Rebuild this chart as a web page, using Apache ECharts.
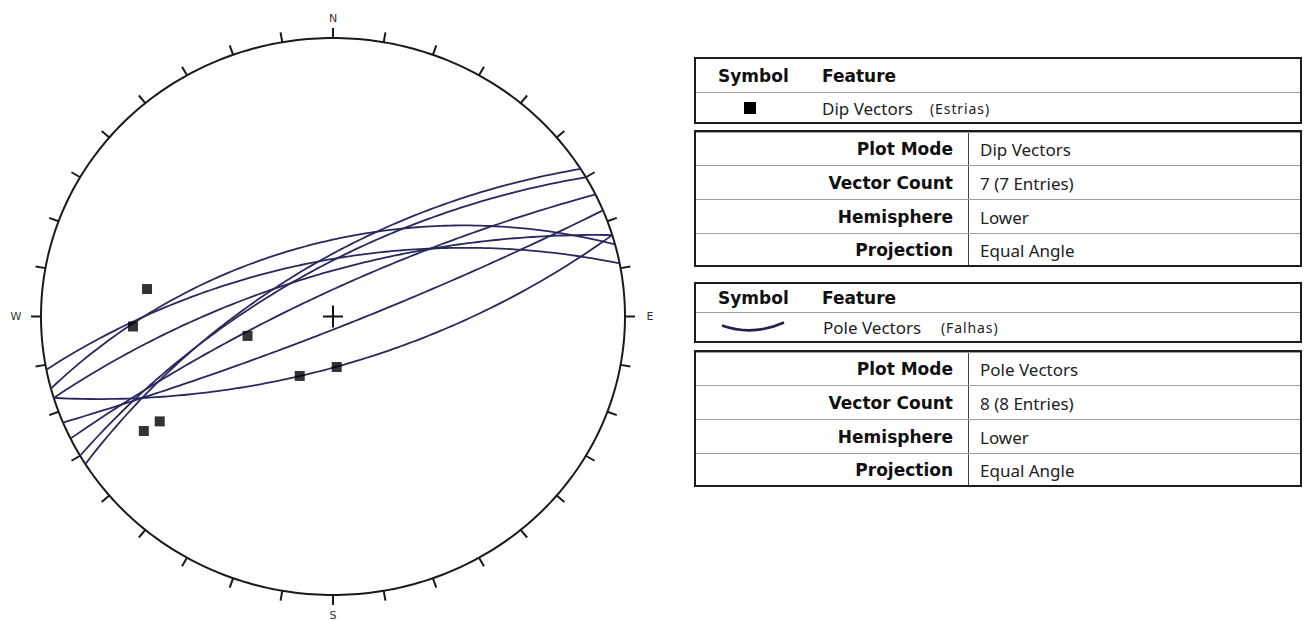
<!DOCTYPE html>
<html>
<head>
<meta charset="utf-8">
<script src="https://cdn.jsdelivr.net/npm/echarts@6/dist/echarts.min.js"></script>
<style>
html, body { margin: 0; padding: 0; background: #fff; }
#chart { position: absolute; left: 0; top: 0; width: 1307px; height: 621px; }
.box { position: absolute; left: 694px; width: 608px; border: 2px solid #1c1c1c; box-sizing: border-box; color: #222; font-family: "Noto Sans", sans-serif; font-size: 17px; }
.row { position: absolute; left: 0; right: 0; box-sizing: border-box; border-top: 1px solid #a0a0a0; }
.row:first-child { border-top: none; }
.row span { position: absolute; top: 50%; transform: translateY(-50%); white-space: nowrap; }
.b { font-family: "DejaVu Sans", sans-serif; font-weight: bold; font-size: 17px; color: #111; }
.lab { right: 347px; text-align: right; }
.val { left: 284px; }
.vline { position: absolute; top: 0; bottom: 0; left: 272px; border-left: 1px solid #444; }
.small { font-size: 14px; letter-spacing: 0.9px; }
</style>
</head>
<body>
<div id="chart"></div>

<div class="box" style="top:57px;height:67px;">
  <div class="row" style="top:0;height:33px;"><span class="b" style="left:22px;">Symbol</span><span class="b" style="left:126px;">Feature</span></div>
  <div class="row" style="top:33px;height:30px;"><span style="left:48px;width:12px;height:12px;background:#000;"></span><span style="left:126px;">Dip Vectors</span><span class="small" style="left:234px;">(Estrias)</span></div>
</div>

<div class="box" style="top:130px;height:137px;">
  <div class="vline"></div>
  <div class="row" style="top:0;height:33px;"><span class="b lab">Plot Mode</span><span class="val">Dip Vectors</span></div>
  <div class="row" style="top:33px;height:34px;"><span class="b lab">Vector Count</span><span class="val">7 (7 Entries)</span></div>
  <div class="row" style="top:67px;height:34px;"><span class="b lab">Hemisphere</span><span class="val">Lower</span></div>
  <div class="row" style="top:101px;height:32px;"><span class="b lab">Projection</span><span class="val">Equal Angle</span></div>
</div>

<div class="box" style="top:282px;height:61px;">
  <div class="row" style="top:0;height:28px;"><span class="b" style="left:22px;">Symbol</span><span class="b" style="left:126px;">Feature</span></div>
  <div class="row" style="top:28px;height:29px;">
    <span style="left:24px;"><svg width="68" height="14"><path d="M2,6 Q33,17 64,3" fill="none" stroke="#23214f" stroke-width="2.6"/></svg></span>
    <span style="left:127px;">Pole Vectors</span><span class="small" style="left:245px;">(Falhas)</span>
  </div>
</div>

<div class="box" style="top:350px;height:137px;">
  <div class="vline"></div>
  <div class="row" style="top:0;height:33px;"><span class="b lab">Plot Mode</span><span class="val">Pole Vectors</span></div>
  <div class="row" style="top:33px;height:34px;"><span class="b lab">Vector Count</span><span class="val">8 (8 Entries)</span></div>
  <div class="row" style="top:67px;height:34px;"><span class="b lab">Hemisphere</span><span class="val">Lower</span></div>
  <div class="row" style="top:101px;height:32px;"><span class="b lab">Projection</span><span class="val">Equal Angle</span></div>
</div>

<script>
// fault planes (great circles): dip direction and dip, degrees
const planeDipDir = [345, 343, 349, 163, 157.6, 334, 330, 328];
const planeDip = [60, 72, 67, 70, 85, 80, 70, 68];

// striations (dip vectors): trend and plunge, degrees
const vecTrend = [278.8, 267.0, 256.6, 208.1, 176.0, 237.6, 237.6];
const vecPlunge = [24.4, 21.1, 56.5, 62.8, 69.4, 15.0, 19.8];

// primitive ticks and compass labels
const tickAz = [0, 10, 20, 30, 40, 50, 60, 70, 80, 90, 100, 110, 120, 130, 140, 150, 160, 170,
  180, 190, 200, 210, 220, 230, 240, 250, 260, 270, 280, 290, 300, 310, 320, 330, 340, 350];
const dirAz = [0, 90, 180, 270];
const dirNames = ['N', 'E', 'S', 'W'];

const RAD = Math.PI / 180;
const LINE_COLOR = '#2a285e';

// lower hemisphere, equal angle (stereographic)
function stereo(e, n, d) {
  return [e / (1 + d), n / (1 + d)];
}
function lineXY(trend, plunge) {
  const t = trend * RAD, p = plunge * RAD;
  return stereo(Math.sin(t) * Math.cos(p), Math.cos(t) * Math.cos(p), Math.sin(p));
}
function greatCircle(dipDir, dip) {
  const st = (dipDir - 90) * RAD, dd = dipDir * RAD, dp = dip * RAD;
  const s = [Math.sin(st), Math.cos(st), 0];
  const d = [Math.cos(dp) * Math.sin(dd), Math.cos(dp) * Math.cos(dd), Math.sin(dp)];
  const out = [];
  for (let a = 0; a <= 180; a += 1.5) {
    const c = Math.cos(a * RAD), sn = Math.sin(a * RAD);
    const v = [c * s[0] + sn * d[0], c * s[1] + sn * d[1], Math.max(0, c * s[2] + sn * d[2])];
    out.push(stereo(v[0], v[1], v[2]));
  }
  return out;
}

const chart = echarts.init(document.getElementById('chart'), null, { renderer: 'svg' });

const option = {
  animation: false,
  grid: { left: 41, top: 38, width: 584, height: 557 },
  xAxis: { type: 'value', min: -1, max: 1, show: false },
  yAxis: { type: 'value', min: -1, max: 1, show: false },
  series: [
    {
      // primitive circle
      type: 'custom',
      clip: false,
      data: [[0, 0]],
      renderItem: function (params, api) {
        const pts = [];
        for (let a = 0; a <= 360; a += 1) {
          pts.push(api.coord([Math.sin(a * RAD), Math.cos(a * RAD)]));
        }
        return { type: 'polyline', shape: { points: pts }, style: { stroke: '#1a1a1a', lineWidth: 2, fill: null } };
      }
    },
    {
      // 10-degree ticks
      type: 'custom',
      clip: false,
      data: tickAz.map(a => [a]),
      renderItem: function (params, api) {
        const a = api.value(0) * RAD;
        const p1 = api.coord([Math.sin(a), Math.cos(a)]);
        const p2 = [p1[0] + Math.sin(a) * 10, p1[1] - Math.cos(a) * 10];
        return { type: 'line', shape: { x1: p1[0], y1: p1[1], x2: p2[0], y2: p2[1] }, style: { stroke: '#1a1a1a', lineWidth: 2 } };
      }
    },
    {
      // N E S W
      type: 'custom',
      clip: false,
      data: dirAz.map((a, i) => [a, dirNames[i]]),
      renderItem: function (params, api) {
        const a = api.value(0) * RAD;
        const p = api.coord([Math.sin(a), Math.cos(a)]);
        return {
          type: 'text',
          style: {
            x: p[0] + Math.sin(a) * 25, y: p[1] - Math.cos(a) * 20,
            text: dirNames[params.dataIndex], fill: '#333',
            font: '11px "DejaVu Sans", sans-serif', align: 'center', verticalAlign: 'middle'
          }
        };
      }
    },
    {
      // fault planes
      type: 'custom',
      clip: false,
      data: planeDipDir.map((d, i) => [d, planeDip[i]]),
      renderItem: function (params, api) {
        const pts = greatCircle(api.value(0), api.value(1)).map(p => api.coord(p));
        return { type: 'polyline', shape: { points: pts }, style: { stroke: LINE_COLOR, lineWidth: 1.8, fill: null } };
      }
    },
    {
      // centre cross
      type: 'custom',
      clip: false,
      data: [[0, 0]],
      renderItem: function (params, api) {
        const c = api.coord([0, 0]);
        return {
          type: 'group',
          children: [
            { type: 'line', shape: { x1: c[0] - 10, y1: c[1], x2: c[0] + 10, y2: c[1] }, style: { stroke: '#111', lineWidth: 2 } },
            { type: 'line', shape: { x1: c[0], y1: c[1] - 11, x2: c[0], y2: c[1] + 11 }, style: { stroke: '#111', lineWidth: 2 } }
          ]
        };
      }
    },
    {
      // striations
      type: 'scatter',
      symbol: 'rect',
      symbolSize: 10,
      itemStyle: { color: '#000' },
      data: vecTrend.map((t, i) => lineXY(t, vecPlunge[i]))
    }
  ]
};
chart.setOption(option);
</script>
</body>
</html>
